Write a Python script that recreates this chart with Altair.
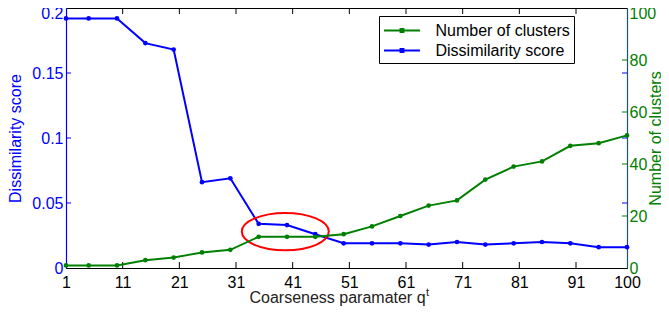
import altair as alt
import pandas as pd

# ---- data ----
q_values = [1, 5, 10, 15, 20, 25, 30, 35, 40, 45, 50, 55, 60, 65, 70, 75, 80, 85, 90, 95, 100]
dissimilarity = [0.192, 0.192, 0.192, 0.173, 0.168, 0.066, 0.069, 0.034, 0.033, 0.026, 0.019,
                 0.019, 0.019, 0.018, 0.020, 0.018, 0.019, 0.020, 0.019, 0.016, 0.016]
clusters = [1, 1, 1, 3, 4, 6, 7, 12, 12, 12, 13, 16, 20, 24, 26, 34, 39, 41, 47, 48, 51]

x_tick_values = [1, 11, 21, 31, 41, 51, 61, 71, 81, 91, 100]
left_tick_values = [0, 0.05, 0.1, 0.15, 0.2]
right_tick_values = [0, 20, 40, 60, 80, 100]
series_names = ["Number of clusters", "Dissimilarity score"]
series_colors = ["#008000", "#0000ff"]

highlight_q = [39.7]
highlight_score = [0.028]

x_title = "Coarseness paramater q"
x_title_sup = ["t"]

# ---- layout / style ----
W, H = 561, 260
BLUE, GREEN = "#0000ff", "#008000"
FONT = "Liberation Sans"

df = pd.DataFrame({"q": q_values, "score": dissimilarity, "clusters": clusters})
df_blue = df.assign(series=series_names[1])
df_green = df.assign(series=series_names[0])
xt = pd.DataFrame({"q": x_tick_values[1:-1]})
lt = pd.DataFrame({"score": left_tick_values[1:-1]})
rt = pd.DataFrame({"clusters": right_tick_values[1:-1]})
hl = pd.DataFrame({"q": highlight_q, "score": highlight_score})
sup = pd.DataFrame({"txt": x_title_sup})

color_scale = alt.Scale(domain=series_names, range=series_colors)

x_enc = alt.X("q:Q", scale=alt.Scale(domain=[1, 100], nice=False, zero=False),
              axis=alt.Axis(values=x_tick_values, ticks=False, title=x_title,
                            labelColor="black", domainColor="black", titleColor="#222222",
                            labelPadding=6, titlePadding=-1, labelFlush=False,
                            titleX=271, titleAlign="center"))

top_label_offset = {"condition": {"test": "datum.index == 1", "value": 5}, "value": 0}

blue_line = alt.Chart(df_blue).mark_line(
    strokeWidth=2, point=alt.OverlayMarkDef(filled=True, size=22)
).encode(
    x=x_enc,
    y=alt.Y("score:Q", scale=alt.Scale(domain=[0, 0.2], nice=False),
            axis=alt.Axis(orient="left", values=left_tick_values, format=".2~f", ticks=False,
                          domainColor=BLUE, labelColor=BLUE, titleColor=BLUE,
                          title="Dissimilarity score", labelPadding=3, titlePadding=8,
                          labelOffset=top_label_offset)),
    color=alt.Color("series:N", scale=color_scale, title=None),
)

tick_l_in = alt.Chart(lt).mark_rule(color=BLUE, strokeWidth=1).encode(
    y="score:Q", x=alt.value(0), x2=alt.value(5))
tick_l_right = alt.Chart(lt).mark_rule(color=BLUE, strokeWidth=1).encode(
    y="score:Q", x=alt.value(W - 5), x2=alt.value(W))
tick_bottom = alt.Chart(xt).mark_rule(color="black", strokeWidth=1).encode(
    x="q:Q", y=alt.value(H), y2=alt.value(H - 6))
tick_top = alt.Chart(xt).mark_rule(color="black", strokeWidth=1).encode(
    x="q:Q", y=alt.value(0), y2=alt.value(6))

ellipse_path = ("M 1 0 C 1 0.2365 0.5523 0.43 0 0.43 C -0.5523 0.43 -1 0.2365 -1 0 "
                "C -1 -0.2365 -0.5523 -0.43 0 -0.43 C 0.5523 -0.43 1 -0.2365 1 0 Z")
ellipse = alt.Chart(hl).mark_point(
    shape=ellipse_path, size=87 * 87, filled=False, stroke="#ff0000", strokeWidth=2, opacity=1
).encode(x="q:Q", y="score:Q")

sup_text = alt.Chart(sup).mark_text(
    font=FONT, fontSize=11, color="#222222", align="left", baseline="alphabetic"
).encode(text="txt:N", x=alt.value(360), y=alt.value(288))

left_group = alt.layer(blue_line, tick_l_in, tick_l_right, tick_bottom, tick_top, ellipse, sup_text)

green_line = alt.Chart(df_green).mark_line(
    strokeWidth=2, point=alt.OverlayMarkDef(filled=True, size=22)
).encode(
    x="q:Q",
    y=alt.Y("clusters:Q", scale=alt.Scale(domain=[0, 100], nice=False),
            axis=alt.Axis(orient="right", values=right_tick_values, ticks=False,
                          domainColor="#1e5470", labelColor=GREEN, titleColor=GREEN,
                          title="Number of clusters", titleAngle=270, labelPadding=2,
                          titlePadding=8, labelOffset=top_label_offset)),
    color=alt.Color("series:N", scale=color_scale, title=None),
)
tick_r_in = alt.Chart(rt).mark_rule(color=GREEN, strokeWidth=1).encode(
    y="clusters:Q", x=alt.value(W - 5), x2=alt.value(W))

right_group = alt.layer(green_line, tick_r_in)

legend_symbol = "M -1.9 0 L 1.9 0 M -0.15 -0.15 L 0.15 -0.15 L 0.15 0.15 L -0.15 0.15 Z"

chart = alt.layer(left_group, right_group).resolve_scale(y="independent").properties(
    width=W, height=H,
    autosize=alt.AutoSizeParams(type="none"),
    padding={"left": 58, "top": 0, "right": 34, "bottom": 38},
).configure_view(
    stroke="black", strokeWidth=1
).configure_axis(
    grid=False, labelFont=FONT, titleFont=FONT, labelFontSize=16, titleFontSize=16,
    titleFontWeight="normal", domainWidth=1.2
).configure_legend(
    orient="none", legendX=313, legendY=8, strokeColor="black", fillColor="white",
    padding=4, labelFont=FONT, labelFontSize=16, labelColor="black",
    symbolType=legend_symbol, symbolSize=361, symbolStrokeWidth=2,
    rowPadding=1, symbolOffset=8.5, labelOffset=23
)

chart.save("out.html", embed_options={"renderer": "svg", "actions": False})
